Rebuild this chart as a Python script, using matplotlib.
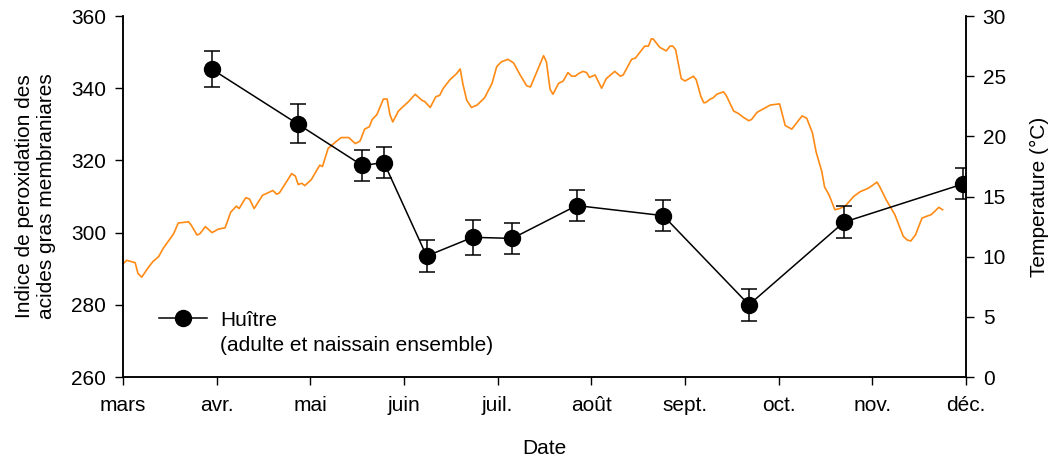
import matplotlib.pyplot as plt
from matplotlib.lines import Line2D

plt.rcParams['font.family'] = ['Liberation Sans', 'DejaVu Sans']

# Huître : indice de peroxidation (moyenne +/- erreur), date en mois (3 = 1er mars)
huitre_mois = [3.947, 4.865, 5.555, 5.786, 6.242, 6.733, 7.156, 7.844, 8.768, 9.683, 10.697, 11.971]
huitre_indice = [345.3, 330.1, 318.6, 319.4, 293.5, 298.7, 298.4, 307.5, 304.7, 280.0, 302.9, 313.5]
huitre_err = [4.9, 5.4, 4.4, 4.3, 4.4, 4.8, 4.4, 4.4, 4.3, 4.4, 4.4, 4.3]

# Température de l'eau
temp_mois = [3.00, 3.04, 3.13, 3.16, 3.20, 3.27, 3.32, 3.38, 3.43, 3.54, 3.59, 3.70, 3.73, 3.79, 3.82,
             3.88, 3.95, 4.02, 4.09, 4.15, 4.21, 4.24, 4.31, 4.35, 4.40, 4.49, 4.60, 4.64, 4.67, 4.76,
             4.80, 4.84, 4.87, 4.91, 4.94, 5.01, 5.07, 5.10, 5.13, 5.17, 5.19, 5.28, 5.33, 5.41, 5.48,
             5.53, 5.58, 5.63, 5.66, 5.71, 5.78, 5.82, 5.85, 5.88, 5.94, 6.05, 6.12, 6.19, 6.22, 6.28,
             6.34, 6.38, 6.42, 6.49, 6.56, 6.60, 6.63, 6.67, 6.72, 6.78, 6.86, 6.94, 6.99, 7.04, 7.11,
             7.17, 7.24, 7.31, 7.35, 7.42, 7.49, 7.52, 7.56, 7.59, 7.65, 7.70, 7.75, 7.79, 7.83, 7.86,
             7.91, 7.95, 7.98, 8.04, 8.11, 8.16, 8.25, 8.31, 8.34, 8.43, 8.47, 8.52, 8.57, 8.61, 8.64,
             8.66, 8.73, 8.80, 8.84, 8.87, 8.90, 8.96, 9.00, 9.09, 9.12, 9.17, 9.20, 9.22, 9.27, 9.30,
             9.34, 9.41, 9.44, 9.52, 9.57, 9.62, 9.68, 9.71, 9.77, 9.84, 9.91, 10.01, 10.07, 10.14, 10.19,
             10.25, 10.30, 10.36, 10.40, 10.46, 10.49, 10.54, 10.60, 10.65, 10.71, 10.80, 10.87, 10.96,
             11.05, 11.08, 11.15, 11.24, 11.33, 11.37, 11.41, 11.46, 11.53, 11.56, 11.63, 11.71, 11.75]
temp_c = [9.4, 9.7, 9.5, 8.6, 8.3, 9.1, 9.6, 10.0, 10.7, 11.9, 12.8, 12.9, 12.6, 11.8, 11.9,
          12.5, 12.0, 12.3, 12.4, 13.7, 14.2, 14.0, 14.9, 14.8, 14.0, 15.1, 15.5, 15.2, 15.3, 16.4,
          16.9, 16.7, 16.0, 16.1, 15.9, 16.4, 17.2, 17.6, 17.5, 18.5, 19.0, 19.6, 19.9, 19.9, 19.4,
          19.6, 20.6, 20.8, 21.4, 21.8, 23.1, 23.1, 21.8, 21.2, 22.1, 22.9, 23.5, 23.0, 22.9, 22.4,
          23.3, 23.4, 24.0, 24.7, 25.2, 25.6, 24.3, 23.0, 22.4, 22.6, 23.2, 24.4, 25.8, 26.2, 26.4,
          26.1, 25.1, 24.2, 24.1, 25.4, 26.7, 26.2, 23.9, 23.5, 24.4, 24.6, 25.3, 25.0, 25.0, 25.2,
          25.4, 25.3, 24.9, 25.1, 24.0, 24.8, 25.4, 25.0, 25.1, 26.4, 26.5, 27.0, 27.5, 27.5, 28.1,
          28.1, 27.4, 27.1, 27.5, 27.5, 27.2, 24.8, 24.6, 25.0, 24.7, 23.3, 22.8, 22.8, 23.1, 23.2,
          23.5, 23.7, 23.4, 22.1, 21.9, 21.6, 21.3, 21.4, 22.0, 22.3, 22.6, 22.7, 20.9, 20.6, 21.1,
          21.7, 21.5, 20.3, 18.7, 17.1, 15.8, 15.1, 13.9, 14.0, 14.2, 15.0, 15.4, 15.7,
          16.2, 15.8, 14.7, 13.5, 11.7, 11.4, 11.3, 11.8, 13.2, 13.3, 13.5, 14.1, 13.9]

mois_ticks = [3, 4, 5, 6, 7, 8, 9, 10, 11, 12]
mois_labels = ['mars', 'avr.', 'mai', 'juin', 'juil.', 'août', 'sept.', 'oct.', 'nov.', 'déc.']

fs = 15

fig = plt.figure(figsize=(10.54, 4.59), dpi=100)
ax = fig.add_axes([0.1167, 0.1786, 0.7998, 0.7865])
ax2 = ax.twinx()

# température derrière les huîtres
ax2.plot(temp_mois, temp_c, color='#ff8a14', lw=1.2)
ax.set_zorder(ax2.get_zorder() + 1)
ax.patch.set_visible(False)

ax.errorbar(huitre_mois, huitre_indice, yerr=huitre_err, color='black', lw=1.1,
            marker='o', markersize=11.5, capsize=6, capthick=1.1, elinewidth=1.1)

ax.set_xlim(3, 12)
ax.set_ylim(260, 360)
ax2.set_ylim(0, 30)
ax.set_xticks(mois_ticks)
ax.set_xticklabels(mois_labels)
ax.set_yticks(range(260, 361, 20))
ax2.set_yticks(range(0, 31, 5))

for a in (ax, ax2):
    a.spines['top'].set_visible(False)
    a.tick_params(direction='out', length=6, width=1, labelsize=fs, pad=6)
    for s in a.spines.values():
        s.set_linewidth(1.1)
ax.tick_params(axis='x', pad=8)

ax.set_xlabel('Date', fontsize=fs, labelpad=17)
ax.set_ylabel('Indice de peroxidation des\nacides gras membraniares', fontsize=fs, labelpad=11)
ax2.set_ylabel('Temperature (°C)', fontsize=fs, labelpad=17)

# légende : le symbole suit la première ligne du texte
handle = Line2D([], [], color='black', lw=1.1, marker='o', markersize=11.5)
vide = Line2D([], [], color='none')
ax.legend([handle, vide], ['Huître', '(adulte et naissain ensemble)'], loc='upper left',
          bbox_to_anchor=(0.021, 0.236), frameon=False, fontsize=fs,
          handlelength=2.3, handletextpad=0.6, labelspacing=0.3)

fig.savefig('out.png', dpi=100)
